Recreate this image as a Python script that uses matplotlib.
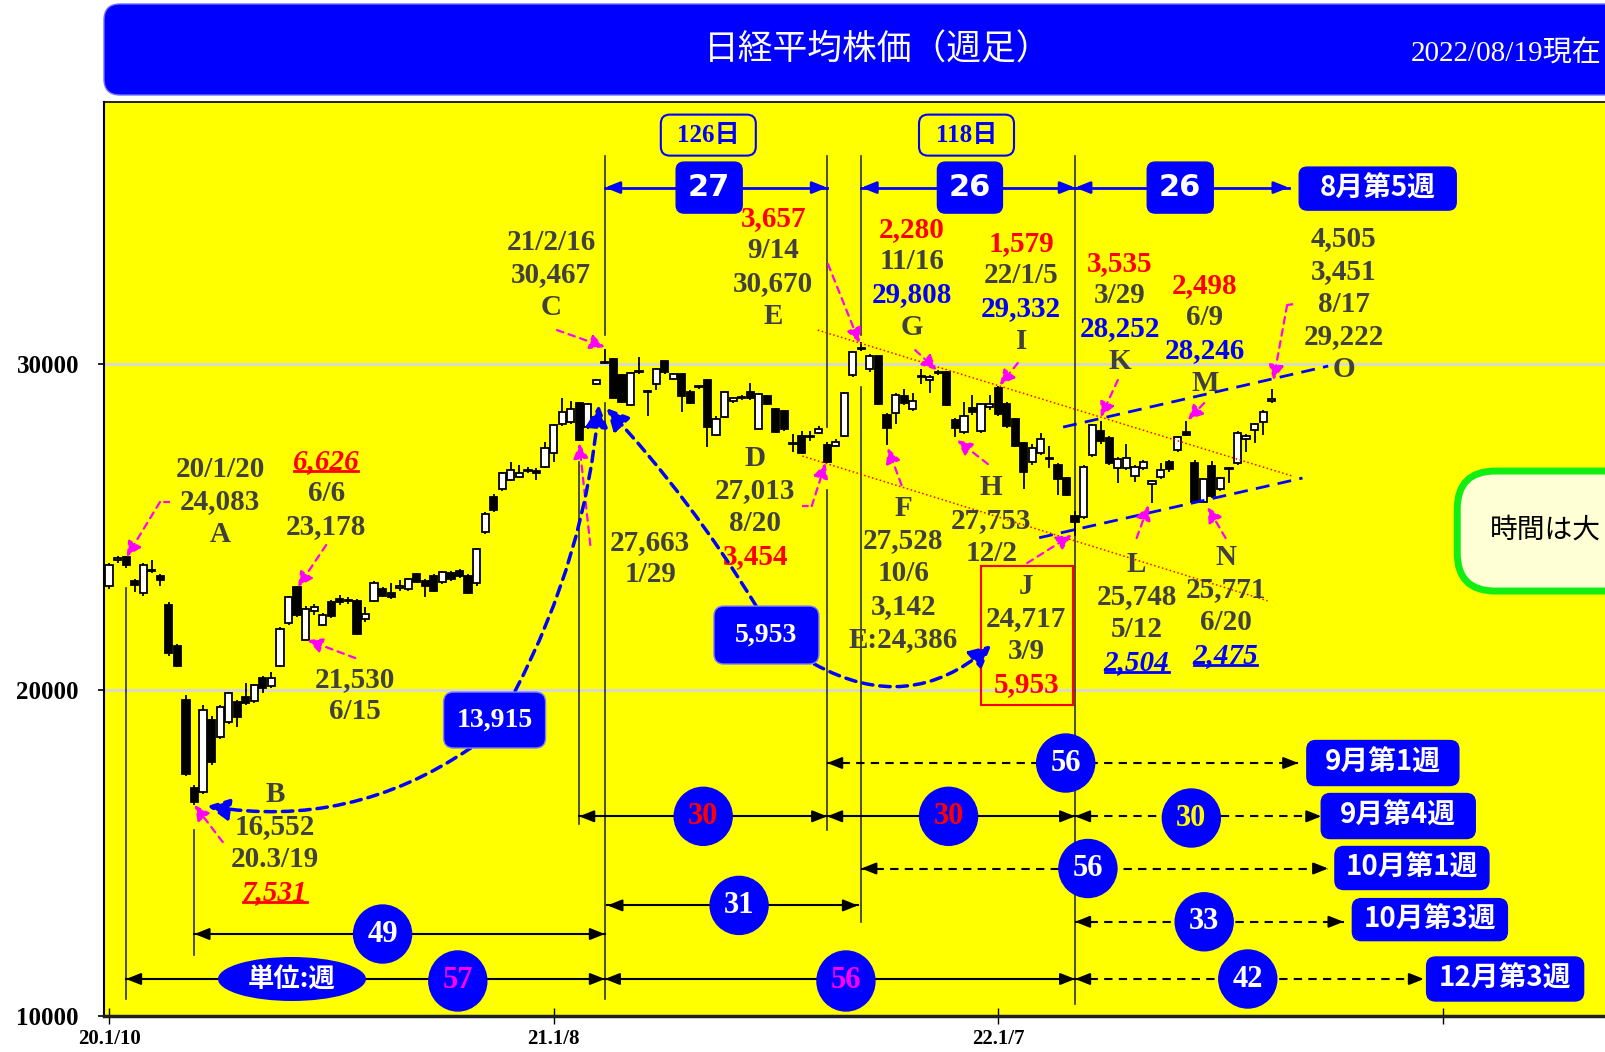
import matplotlib
matplotlib.use('Agg')
import matplotlib.pyplot as plt
from matplotlib.patches import FancyBboxPatch, Ellipse, Rectangle, FancyArrowPatch
from matplotlib.lines import Line2D

plt.rcParams['font.family'] = ['Liberation Serif', 'Noto Sans CJK JP']

# weekly candles, 2020/1/10 .. 2022/8/19 (one row of 10 weeks per line)
opens = [23190, 23990, 24080, 23340, 22970, 23650, 23500, 22610, 21350, 19690,
         17000, 16870, 19080, 18560, 19020, 19630, 19780, 19660, 20370, 20120,
         20740, 22050, 23160, 21540, 22420, 21990, 22700, 22780, 22720, 22730,
         22180, 22730, 23100, 22970, 23130, 23100, 23560, 23340, 23500, 23310,
         23590, 23650, 23500, 23280, 24840, 25920, 26160, 26440, 26530, 26720,
         26720, 26840, 27270, 28160, 28220, 28800, 28070, 29380, 30020, 30150,
         29660, 28740, 29760, 29150, 29380, 30090, 29540, 29690, 29140, 29300,
         29510, 27820, 28370, 28860, 28960, 29140, 28010, 29020, 28620, 28560,
         27550, 27790, 27760, 27880, 27520, 27480, 27790, 29660, 30460, 29840,
         30240, 28430, 28490, 29020, 28620, 29600, 29500, 29720, 29750, 28280,
         27910, 28650, 27940, 28680, 29260, 28770, 28310, 27570, 26990, 27270,
         27080, 26900, 26500, 25330, 25300, 27210, 27940, 27740, 26810, 26810,
         26560, 26810, 26320, 26530, 26990, 27360, 27910, 26970, 25771, 26870,
         26170, 26780, 26980, 27690, 27975, 28230, 28870]
highs = [23900, 24115, 24120, 23420, 23900, 23990, 23560, 22700, 21400, 19850,
         17100, 19540, 19200, 19550, 19950, 19700, 20210, 20200, 20420, 20550,
         21920, 22900, 23180, 22580, 22650, 22350, 22750, 22910, 22850, 22780,
         22540, 23340, 23150, 23280, 23370, 23450, 23600, 23400, 23550, 23650,
         23650, 23700, 23550, 24350, 25450, 26000, 26700, 26990, 26900, 26850,
         26800, 27600, 28150, 28950, 28860, 28850, 28800, 29550, 30467, 30200,
         29700, 29750, 30220, 29200, 29880, 30100, 29720, 29720, 29200, 29360,
         29550, 28400, 29160, 29000, 29050, 29420, 29100, 29050, 28650, 28600,
         27850, 27950, 27950, 28100, 27600, 27700, 29130, 30400, 30670, 30300,
         30260, 28500, 29100, 29240, 29110, 29850, 29650, 29808, 29780, 28350,
         28830, 29050, 28800, 29050, 29332, 28850, 28350, 27600, 27550, 27900,
         27500, 26950, 26550, 25500, 26900, 28150, 28252, 27800, 27150, 27550,
         26900, 27050, 26450, 26950, 27050, 27800, 28246, 27050, 26500, 27030,
         26550, 26850, 27950, 27850, 28200, 28600, 29222]
lows = [23100, 23900, 23750, 23000, 22900, 23600, 23190, 21050, 20700, 17350,
        16480, 16800, 17700, 18500, 18950, 18860, 19550, 19600, 19900, 20050,
        20700, 22000, 22250, 21530, 22300, 21950, 22200, 22620, 22650, 21700,
        22100, 22700, 22850, 22800, 23050, 23050, 23280, 22850, 23000, 23250,
        23350, 23450, 22950, 23200, 24800, 25450, 26100, 26400, 26500, 26650,
        26440, 26800, 27000, 28100, 28150, 27630, 28000, 29350, 30000, 28950,
        28800, 28700, 29700, 28400, 29200, 29700, 29500, 28530, 28780, 29250,
        27450, 27800, 28350, 28800, 28900, 28900, 28000, 28750, 27900, 27950,
        27300, 27250, 27650, 27850, 26950, 27450, 27750, 29600, 30400, 29750,
        28750, 27528, 28160, 28750, 28550, 29400, 29100, 29650, 28700, 27753,
        27850, 28450, 27900, 28600, 28400, 28050, 27450, 26170, 26900, 27200,
        26800, 25980, 25950, 24717, 25250, 27150, 27550, 26900, 26350, 26750,
        26380, 26750, 25748, 26480, 26700, 27300, 27780, 25780, 25771, 25900,
        26100, 26350, 26900, 27310, 27590, 27820, 28800]
closes = [23830, 24040, 23830, 23210, 23830, 23690, 23380, 21140, 20740, 17430,
          16550, 19390, 17800, 19480, 19900, 19170, 19600, 20150, 20060, 20370,
          21870, 22850, 22300, 22480, 22540, 22300, 22270, 22700, 22750, 21720,
          22330, 23280, 22880, 22850, 23190, 23400, 23310, 23190, 23030, 23620,
          23400, 23500, 22970, 24320, 25390, 25520, 26650, 26750, 26650, 26760,
          26650, 27420, 28130, 28520, 28620, 27660, 28770, 29510, 30060, 28960,
          28830, 29720, 29790, 29180, 29850, 29760, 29690, 29020, 28810, 29330,
          28070, 28310, 29140, 28950, 28990, 28960, 29070, 28780, 27920, 28000,
          27580, 27270, 27800, 28000, 27010, 27610, 29110, 30370, 30500, 30240,
          28770, 28040, 29050, 28800, 28860, 29630, 29600, 29750, 28750, 28030,
          28400, 28530, 28770, 28790, 28470, 28100, 27500, 26700, 27420, 27700,
          27120, 26470, 25980, 25160, 26830, 28130, 27640, 26980, 27090, 27110,
          26840, 26990, 26420, 26750, 26780, 27760, 27820, 25780, 26470, 25950,
          26510, 26800, 27890, 27790, 28160, 28540, 28930]

xtick_pos = [0, 52, 104, 156]
xtick_labels = ['20.1/10', '21.1/8', '22.1/7', '']
ytick_vals = [10000, 20000, 30000]
title = '日経平均株価（週足）'
as_of = '2022/08/19現在'

FW, FH = 1606, 1052
fig = plt.figure(figsize=(FW / 100, FH / 100), dpi=100)
fig.patch.set_facecolor('white')
ax = fig.add_axes([104 / FW, 1 - 1016 / FH, 1 - 104 / FW, 914 / FH])
ax.set_facecolor('#FFFF00')
X0, X1, Y0, Y1 = -0.585, 175.1, 10000, 38040
ax.set_xlim(X0, X1)
ax.set_ylim(Y0, Y1)
WPP = (X1 - X0) / (FW - 104)   # weeks per pixel
PPP = (Y1 - Y0) / 914          # yen per pixel

GRAY = '#404040'
BLUE = '#0000FF'
MAG = '#FF00FF'

for v in ytick_vals[1:]:
    ax.axhline(v, color='#D8D8D8', lw=2, zorder=1)

# candles
for i, (o, h, l, c) in enumerate(zip(opens, highs, lows, closes)):
    ax.vlines(i, l, h, color='black', lw=1.3, zorder=3)
    ax.add_patch(Rectangle((i - 0.42, min(o, c)), 0.84, max(abs(c - o), 30),
                           facecolor='white' if c >= o else 'black',
                           edgecolor='black', lw=1.3, zorder=4))

# vertical marker lines
for x, y0, y1 in [(2, 23129, 10521), (10, 15706, 11871), (55, 26994, 15890),
                  (58, 36380, 30890), (58, 28804, 10521),
                  (84, 36380, 28067), (84, 26135, 15706),
                  (88, 36380, 30890), (88, 29294, 12883), (113, 36380, 10368)]:
    ax.plot([x, x], [y0, y1], color='#303030', lw=1.2, zorder=2)


def heads(x0, x1, y, color, lw, ms=16):
    L = 11 * WPP
    for tip, d in ((x0, -1), (x1, 1)):
        ax.annotate('', xy=(tip, y), xytext=(tip - d * L, y), zorder=6,
                    arrowprops=dict(arrowstyle='-|>,head_length=0.55,head_width=0.22',
                                    color=color, lw=lw, mutation_scale=ms,
                                    shrinkA=0, shrinkB=0))


def harrow(x0, x1, y, color='black', lw=1.5, dashed=False):
    ls = (0, (4, 3)) if dashed else '-'
    ax.plot([x0, x1], [y, y], color=color, lw=lw, ls=ls, zorder=5)
    heads(x0, x1, y, color, lw)


def circ(x, y, txt, tcolor, size=22, wpx=58, hpx=58):
    ax.add_patch(Ellipse((x, y), wpx * WPP, hpx * PPP, facecolor=BLUE,
                         edgecolor=BLUE, zorder=7))
    ax.text(x, y, txt, color=tcolor, fontsize=size, fontweight='bold',
            ha='center', va='center', zorder=8)


def rbox(x, y, wpx, hpx, txt, fc=BLUE, ec=BLUE, tcolor='white', size=20,
         family=None, r=9, lw=1.0):
    w, h = wpx * WPP, hpx * PPP
    ax.add_patch(FancyBboxPatch((x - w / 2, y - h / 2), w, h,
                                boxstyle=f'round,pad=0,rounding_size={r * WPP}',
                                mutation_aspect=PPP / WPP, fc=fc, ec=ec, lw=lw, zorder=7))
    kw = {} if family is None else {'family': family}
    ax.text(x, y, txt, color=tcolor, fontsize=size, fontweight='bold',
            ha='center', va='center', zorder=8, **kw)


# top span arrows
YT = 35414
harrow(58, 84, YT, BLUE, 2)
harrow(88, 113, YT, BLUE, 2)
harrow(113, 138, YT, BLUE, 2)
rbox(70.2, YT, 66, 51, '27', size=22, family='DejaVu Sans', r=8)
rbox(100.7, YT, 65, 51, '26', size=22, family='DejaVu Sans', r=8)
rbox(125.3, YT, 66, 51, '26', size=22, family='DejaVu Sans', r=8)
rbox(148.4, 35383, 157, 43, '8月第5週', size=20, family='Noto Sans CJK JP', r=8)
rbox(70.1, 37024, 95, 41, '126日', fc='#FFFF00', ec=BLUE, tcolor=BLUE, size=18, lw=1.5)
rbox(100.3, 37024, 95, 41, '118日', fc='#FFFF00', ec=BLUE, tcolor=BLUE, size=18, lw=1.5)

# bottom span arrows
harrow(84, 139.1, 17761, dashed=True)
circ(111.9, 17761, '56', 'white')
rbox(149.0, 17761, 152, 45, '9月第1週', family='Noto Sans CJK JP')

harrow(55, 84, 16126)
harrow(84, 113, 16126)
harrow(113, 141.8, 16126, dashed=True)
circ(69.5, 16126, '30', 'red')
circ(98.2, 16126, '30', 'red')
circ(126.6, 16074, '30', '#FFFF00')
rbox(150.8, 16135, 154, 45, '9月第4週', family='Noto Sans CJK JP')

harrow(88, 142.6, 14525, dashed=True)
circ(114.5, 14525, '56', 'white')
rbox(152.4, 14540, 154, 43, '10月第1週', family='Noto Sans CJK JP')

harrow(58.3, 87.6, 13393)
circ(73.7, 13393, '31', 'white')

harrow(113, 144.4, 12890, dashed=True)
circ(128.1, 12890, '33', 'white')
rbox(154.5, 12957, 155, 42, '10月第3週', family='Noto Sans CJK JP')

harrow(10, 58, 12515)
circ(32.0, 12515, '49', 'white')

harrow(2, 58, 11135)
harrow(58, 113, 11135)
harrow(113, 153.8, 11135, dashed=True)
ax.add_patch(Ellipse((21.4, 11135), 148 * WPP, 44 * PPP, facecolor=BLUE, zorder=7))
ax.text(21.4, 11135, '単位:週', color='white', fontsize=19, fontweight='bold',
        family='Noto Sans CJK JP', ha='center', va='center', zorder=8)
circ(40.8, 11074, '57', MAG, hpx=60)
circ(86.2, 11074, '56', MAG, hpx=60)
circ(133.2, 11135, '42', 'white')
rbox(163.3, 11135, 157, 44, '12月第3週', family='Noto Sans CJK JP')

# trend channels
ax.plot([111.6, 142.6], [28067, 29939], color=BLUE, lw=2, ls=(0, (5, 3)), zorder=5)
ax.plot([108.8, 139.6], [24672, 26503], color=BLUE, lw=2, ls=(0, (5, 3)), zorder=5)
ax.plot([82.9, 138.4], [31043, 26565], color='red', lw=1.1, ls=':', zorder=5)
ax.plot([81.1, 135.6], [27178, 22730], color='red', lw=1.1, ls=':', zorder=5)


def marrow(pts, rad=0.0):
    if len(pts) > 2:
        ax.plot([p[0] for p in pts[:-1]], [p[1] for p in pts[:-1]], color=MAG,
                lw=1.6, ls=(0, (3, 2.5)), zorder=6)
    ax.add_patch(FancyArrowPatch(pts[-2], pts[-1],
                                 arrowstyle='-|>,head_length=0.6,head_width=0.3',
                                 mutation_scale=15, color=MAG, lw=1.6, ls=(0, (3, 2.5)),
                                 connectionstyle=f'arc3,rad={rad}',
                                 shrinkA=0, shrinkB=0, zorder=6))


marrow([(7.13, 25767), (5.96, 25767), (2.07, 24089)])
marrow([(25.4, 24448), (22.1, 23160)])
marrow([(28.8, 20982), (23.2, 21534)])
marrow([(13.3, 15337), (10.0, 16472)])
marrow([(52.4, 31043), (58.0, 30522)])
marrow([(56.3, 24448), (55.0, 27567)])
marrow([(84.1, 33067), (87.8, 30644)])
marrow([(81.1, 25644), (82.2, 25644), (83.8, 26963)])
marrow([(94.3, 30430), (96.8, 29816)])
marrow([(92.7, 26288), (91.1, 27423)])
marrow([(102.8, 26933), (99.2, 27669)])
marrow([(106.3, 30031), (104.2, 29356)])
marrow([(107.4, 23896), (112.6, 24755)])
marrow([(118.0, 29509), (116.0, 28374)])
marrow([(120.2, 24663), (121.6, 25675)])
marrow([(128.1, 28804), (126.2, 28282)])
marrow([(130.6, 24663), (128.5, 25614)])
marrow([(138.5, 31840), (137.8, 31810), (136.2, 29509)])


def barrow(a, b, rad):
    ax.add_patch(FancyArrowPatch(a, b, arrowstyle='-|>,head_length=0.6,head_width=0.3',
                                 mutation_scale=22, color=BLUE, lw=2.5, ls=(0, (3, 2)),
                                 connectionstyle=f'arc3,rad={rad}',
                                 shrinkA=0, shrinkB=0, zorder=6))


barrow((47.5, 19969), (57.3, 28743), 0.1)
barrow((42.3, 18221), (11.5, 16442), -0.2)
barrow((75.7, 22577), (58.2, 28650), 0.05)
barrow((82.5, 20798), (103.2, 21380), 0.35)
rbox(45.1, 19080, 102, 56, '13,915', ec='#8080FF', size=20, r=10)
rbox(76.9, 21687, 105, 58, '5,953', ec='#8080FF', size=20, r=10)

# J frame
ax.add_patch(Rectangle((102.0, 19540), 10.7, 4264, fill=False, edgecolor='red',
                       lw=1.5, zorder=5))

# green note box (runs off the right edge)
ax.add_patch(FancyBboxPatch((157.7, 23037), 40, 3681,
                            boxstyle=f'round,pad=0,rounding_size={38 * WPP}',
                            mutation_aspect=PPP / WPP, fc='#FFFFD5', ec='#11EE11',
                            lw=5, zorder=6))
ax.text(161.5, 24923, '時間は大', color='black', fontsize=20, family='Noto Sans CJK JP',
        ha='left', va='center', zorder=8)

# price / date annotation blocks
styles = {'g': (GRAY, 'normal'), 'r': ('red', 'normal'), 'b': (BLUE, 'normal'),
          'ru': ('red', 'italic'), 'bu': (BLUE, 'italic')}
blocks = [
    (13.0, 26779, [('20/1/20', 'g'), ('24,083', 'g'), ('A', 'g')]),
    (25.4, 27025, [('6,626', 'ru'), ('6/6', 'g'), ('23,178', 'g')]),
    (28.8, 20337, [('21,530', 'g'), ('6/15', 'g')]),
    (19.4, 16810, [('B', 'g'), ('16,552', 'g'), ('20.3/19', 'g'), ('7,531', 'ru')]),
    (51.7, 33742, [('21/2/16', 'g'), ('30,467', 'g'), ('C', 'g')]),
    (63.3, 24540, [('27,663', 'g'), ('1/29', 'g')]),
    (77.7, 34479, [('3,657', 'r'), ('9/14', 'g'), ('30,670', 'g'), ('E', 'g')]),
    (75.6, 27117, [('D', 'g'), ('27,013', 'g'), ('8/20', 'g'), ('3,454', 'r')]),
    (93.9, 34141, [('2,280', 'r'), ('11/16', 'g'), ('29,808', 'b'), ('G', 'g')]),
    (106.7, 33712, [('1,579', 'r'), ('22/1/5', 'g'), ('29,332', 'b'), ('I', 'g')]),
    (92.9, 25583, [('F', 'g'), ('27,528', 'g'), ('10/6', 'g'), ('3,142', 'g'), ('E:24,386', 'g')]),
    (103.2, 26212, [('H', 'g'), ('27,753', 'g'), ('12/2', 'g')]),
    (107.3, 23190, [('J', 'g'), ('24,717', 'g'), ('3/9', 'g'), ('5,953', 'r')]),
    (118.2, 33098, [('3,535', 'r'), ('3/29', 'g'), ('28,252', 'b'), ('K', 'g')]),
    (128.2, 32423, [('2,498', 'r'), ('6/9', 'g'), ('28,246', 'b'), ('M', 'g')]),
    (120.2, 23865, [('L', 'g'), ('25,748', 'g'), ('5/12', 'g'), ('2,504', 'bu')]),
    (130.6, 24080, [('N', 'g'), ('25,771', 'g'), ('6/20', 'g'), ('2,475', 'bu')]),
    (144.4, 33849, [('4,505', 'g'), ('3,451', 'g'), ('8/17', 'g'), ('29,222', 'g'), ('O', 'g')]),
]
underlined = []
for x, ytop, lines in blocks:
    for k, (txt, st) in enumerate(lines):
        col, sty = styles[st]
        t = ax.text(x, ytop - k * 1005, txt, color=col, fontsize=21, fontweight='bold',
                    fontstyle=sty, ha='center', va='center', zorder=8)
        if st in ('ru', 'bu'):
            underlined.append((t, col))

# axes cosmetics
ax.set_xticks(xtick_pos)
ax.set_xticklabels(xtick_labels, fontsize=15, fontweight='bold')
ax.set_yticks(ytick_vals)
ax.set_yticklabels([str(v) for v in ytick_vals], fontsize=18, fontweight='bold')
ax.tick_params(axis='x', direction='inout', length=12, width=1, pad=3)
ax.tick_params(axis='y', direction='out', length=4, width=1.2, pad=14)
ax.spines['right'].set_visible(False)
ax.spines['top'].set_linewidth(1.2)
ax.spines['left'].set_linewidth(1.5)
ax.spines['bottom'].set_linewidth(2.5)
ax.spines['bottom'].set_color('#202020')

# title bar
fig.add_artist(FancyBboxPatch((104 / FW, 1 - 95 / FH), 1.2, 91 / FH,
                              boxstyle=f'round,pad=0,rounding_size={16 / FW}',
                              mutation_aspect=FW / FH, transform=fig.transFigure,
                              fc=BLUE, ec='#7070FF', lw=1))
fig.text(878 / FW, 1 - 50 / FH, title, color='white', fontsize=25,
         family='Noto Sans CJK JP', ha='center', va='center')
fig.text(1411 / FW, 1 - 53 / FH, as_of, color='white', fontsize=21,
         ha='left', va='center')

# underlines for italic figures
fig.canvas.draw()
inv = fig.transFigure.inverted()
for t, col in underlined:
    bb = t.get_window_extent()
    yb = bb.y0 + 0.14 * bb.height
    (fx0, fy), (fx1, _) = inv.transform([(bb.x0 + 1, yb), (bb.x1 - 1, yb)])
    fig.add_artist(Line2D([fx0, fx1], [fy, fy], color=col, lw=2, transform=fig.transFigure))

fig.savefig('out.png', dpi=100)
